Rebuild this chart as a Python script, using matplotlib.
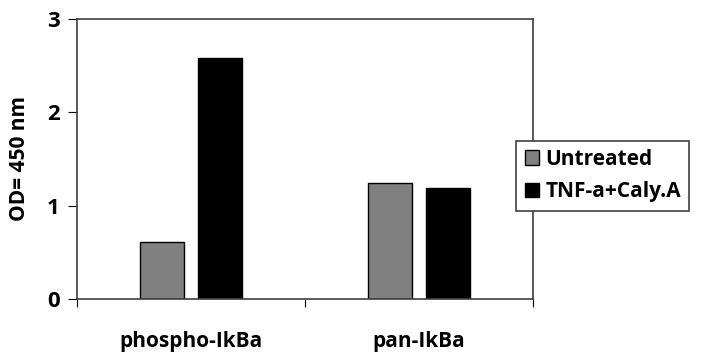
import matplotlib.pyplot as plt
import numpy as np

categories = ["phospho-IkBa", "pan-IkBa"]
untreated = [0.61, 1.24]
treated = [2.58, 1.19]
series_names = ["Untreated", "TNF-a+Caly.A"]

plt.rcParams['font.family'] = ['Open Sans', 'DejaVu Sans']
plt.rcParams['font.weight'] = 'bold'

fig = plt.figure(figsize=(7.1, 3.58), dpi=100)
ax = fig.add_axes([0.1085, 0.165, 0.6425, 0.782])

x = np.arange(len(categories))
w = 0.193
gap = 0.06
ax.bar(x - (w + gap) / 2, untreated, w, color="#808080", edgecolor="black",
       linewidth=1, label=series_names[0])
ax.bar(x + (w + gap) / 2, treated, w, color="black", edgecolor="black",
       linewidth=1, label=series_names[1])

ax.set_xlim(-0.5, 1.5)
ax.set_ylim(0, 3)
ax.set_yticks([0, 1, 2, 3])
ax.set_yticklabels(["0", "1", "2", "3"], fontsize=16, fontweight="bold")
ax.set_xticks([-0.5, 0.5, 1.5], minor=False)
ax.set_xticklabels([])
ax.set_xticks(x, minor=True)
ax.set_xticklabels(categories, minor=True, fontsize=15, fontweight="bold")
ax.tick_params(axis="x", which="minor", length=0, pad=23)
ax.tick_params(axis="x", which="major", length=6, direction="out")
ax.tick_params(axis="y", length=6.5, direction="out", pad=6)
ax.set_ylabel("OD= 450 nm", fontsize=15, fontweight="bold", labelpad=12)

for s in ax.spines.values():
    s.set_color("#404040")
    s.set_linewidth(1.2)

leg = ax.legend(loc="center left", bbox_to_anchor=(0.963, 0.44), fontsize=15,
                frameon=True, fancybox=False, edgecolor="#404040",
                borderaxespad=0,
                handlelength=0.7, handleheight=0.7, handletextpad=0.3,
                borderpad=0.4, labelspacing=0.55)
leg.get_frame().set_linewidth(1.2)
leg.get_frame().set_alpha(1)

fig.savefig("out.png", dpi=100)
